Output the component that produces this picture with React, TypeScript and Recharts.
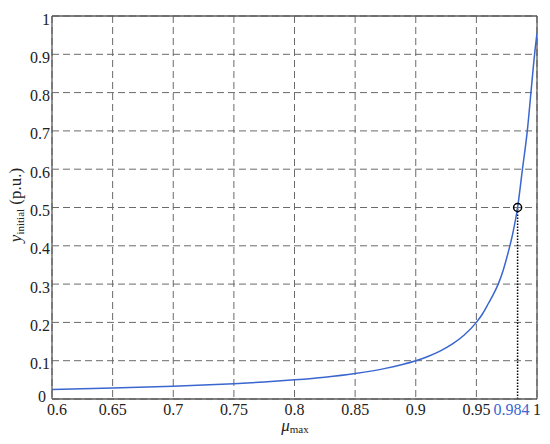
import React from "react";
import {
  LineChart,
  Line,
  XAxis,
  YAxis,
  CartesianGrid,
  ReferenceLine,
  ReferenceDot,
} from "recharts";

const muValues = [
  0.6, 0.65, 0.7, 0.75, 0.775, 0.8, 0.825, 0.85, 0.875, 0.9, 0.91, 0.92,
  0.93, 0.94, 0.95, 0.955, 0.96, 0.964, 0.968, 0.972, 0.976, 0.98, 0.984,
  0.988, 0.992, 0.995, 0.998, 1.0,
];
const yValues = [
  0.025, 0.0286, 0.0333, 0.04, 0.0444, 0.05, 0.057, 0.0667, 0.08, 0.1,
  0.111, 0.125, 0.143, 0.167, 0.2, 0.222, 0.25, 0.273, 0.3, 0.335, 0.38,
  0.432, 0.5, 0.6, 0.7, 0.8, 0.9, 0.955,
];
const xTicks = [0.6, 0.65, 0.7, 0.75, 0.8, 0.85, 0.9, 0.95, 0.984, 1];
const xGrid = [0.6, 0.65, 0.7, 0.75, 0.8, 0.85, 0.9, 0.95, 1];
const yTicks = [0, 0.1, 0.2, 0.3, 0.4, 0.5, 0.6, 0.7, 0.8, 0.9, 1];
const markerX = 0.984;
const markerY = 0.5;

const data = muValues.map((mu, i) => ({ mu, y: yValues[i] }));

const FONT = "Liberation Serif, DejaVu Serif, serif";
const BLUE = "#3a66d0";
const AXIS = "#5a5a5a";
const GRID = "#6a6a6a";

const fmt = (v: number) => (v === 0 ? "0" : v === 1 ? "1" : String(v));

const XTick = (props: any) => {
  const { x, y, payload } = props;
  const v = payload.value;
  const special = Math.abs(v - markerX) < 1e-6;
  let dx = 0;
  if (special) dx = -6;
  if (v === 0.6) dx = 5;
  return (
    <text
      x={x + dx}
      y={y}
      dy="0.71em"
      textAnchor="middle"
      style={{ fontFamily: FONT, fontSize: 16 }}
      fill={special ? BLUE : "#222"}
    >
      {fmt(v)}
    </text>
  );
};

const YTick = (props: any) => {
  const { x, y, payload } = props;
  const v = payload.value;
  return (
    <text
      x={v === 0 ? x - 4 : x}
      y={y}
      dy={v === 0 ? 3 : 8.5}
      textAnchor="end"
      style={{ fontFamily: FONT, fontSize: 16 }}
      fill="#222"
    >
      {fmt(v)}
    </text>
  );
};

const XLabel = () => (
  <text x={295} y={431} textAnchor="middle" style={{ fontFamily: FONT, fontSize: 17 }} fill="#222">
    <tspan fontStyle="italic">μ</tspan>
    <tspan fontSize={11} dy={2}>max</tspan>
  </text>
);

const YLabel = () => (
  <text
    transform="translate(21,205) rotate(-90)"
    textAnchor="middle"
    style={{ fontFamily: FONT, fontSize: 17 }}
    fill="#222"
  >
    <tspan fontStyle="italic">y</tspan>
    <tspan fontSize={11} dy={3}>initial</tspan>
    <tspan dy={-3}> (p.u.)</tspan>
  </text>
);

export default function App() {
  return (
    <div style={{ position: "absolute", left: 0, top: 0, background: "#fff" }}>
      <LineChart
        width={550}
        height={444}
        data={data}
        margin={{ top: 16, right: 13, bottom: 0, left: 0 }}
      >
        <CartesianGrid
          stroke={GRID}
          strokeDasharray="7 4"
          verticalValues={xGrid}
          horizontalValues={yTicks}
        />
        <XAxis
          dataKey="mu"
          type="number"
          domain={[0.6, 1]}
          ticks={xTicks}
          interval={0}
          height={45}
          tickLine={false}
          tickSize={0}
          tickMargin={5}
          tick={<XTick />}
          axisLine={{ stroke: AXIS, strokeWidth: 1.3 }}
          allowDataOverflow
          label={<XLabel />}
        />
        <YAxis
          type="number"
          domain={[0, 1]}
          ticks={yTicks}
          interval={0}
          width={52}
          tickLine={false}
          tickSize={0}
          tickMargin={2}
          tick={<YTick />}
          axisLine={{ stroke: AXIS, strokeWidth: 1.3 }}
          allowDataOverflow
          label={<YLabel />}
        />
        <ReferenceLine y={1} stroke={AXIS} strokeWidth={1.3} />
        <ReferenceLine x={1} stroke={AXIS} strokeWidth={1.3} />
        <ReferenceLine
          segment={[
            { x: markerX, y: 0 },
            { x: markerX, y: markerY },
          ]}
          stroke="#000"
          strokeWidth={1.5}
          strokeDasharray="1.5 1.5"
        />
        <Line
          type="monotone"
          dataKey="y"
          stroke={BLUE}
          strokeWidth={1.5}
          dot={false}
          isAnimationActive={false}
        />
        <ReferenceDot
          x={markerX}
          y={markerY}
          r={4}
          fill="none"
          stroke="#000"
          strokeWidth={1.5}
        />
      </LineChart>
    </div>
  );
}
